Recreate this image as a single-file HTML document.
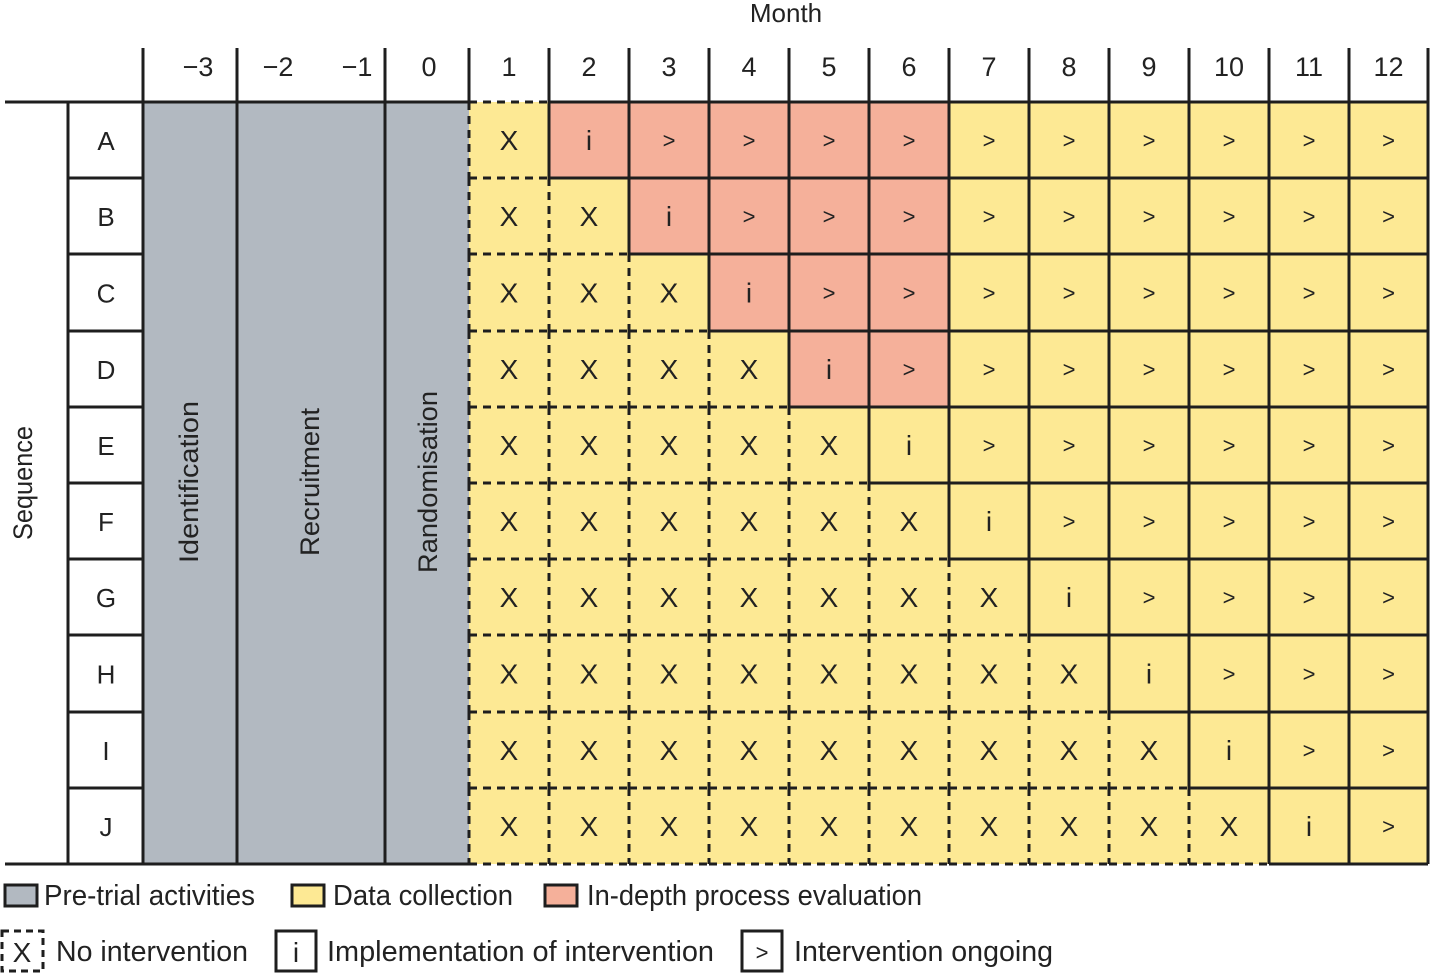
<!DOCTYPE html>
<html><head><meta charset="utf-8"><style>
html,body{margin:0;padding:0;background:#fff;}
svg{display:block;font-family:"Liberation Sans",sans-serif;}
</style></head><body>
<svg id="s" width="1430" height="973" viewBox="0 0 1430 973" xmlns="http://www.w3.org/2000/svg"></svg>
<script>
var s=document.getElementById('s');var h='';
var cx=[469,549,629,709,789,869,949,1029,1109,1189,1269,1349,1428];
var ry=[];for(var i=0;i<=10;i++)ry.push(Math.round(102+i*76.2));
var Y='#fde994',P='#f5b09a',G='#b2b9c1',L='#1e1e1e';
function t(x,y,str,fs,extra){h+='<text x="'+x+'" y="'+y+'" font-size="'+fs+'" text-anchor="middle" fill="#222" '+(extra||'')+'>'+str+'</text>';}
function ln(x1,y1,x2,y2,d){h+='<line x1="'+x1+'" y1="'+y1+'" x2="'+x2+'" y2="'+y2+'" stroke="'+L+'" stroke-width="3"'+(d?' stroke-dasharray="8,6"':'')+'/>';}
// pretrial
h+='<rect x="143" y="102" width="326" height="762" fill="'+G+'"/>';
// cells
function kind(r,c){ if(c<=r+1) return 'X'; if(c==r+2) return 'i'; return '>';}
function pink(r,c){return (r<=3 && c>=r+2 && c<=6);}
for(var r=0;r<10;r++)for(var c=1;c<=12;c++){
 h+='<rect x="'+cx[c-1]+'" y="'+ry[r]+'" width="'+(cx[c]-cx[c-1])+'" height="'+(ry[r+1]-ry[r])+'" fill="'+(pink(r,c)?P:Y)+'"/>';
}
// texts in cells
for(var r=0;r<10;r++)for(var c=1;c<=12;c++){
 var k=kind(r,c),x=(cx[c-1]+cx[c])/2,y=(ry[r]+ry[r+1])/2;
 if(k=='X')t(x,y+10,'X',28,'transform="scale(1,1)"');
 else if(k=='i')t(x,y+10,'i',28);
 else t(x,y+8,'&gt;',22);
}
function isX(r,c){return r>=0&&r<10&&c>=1&&c<=12&&kind(r,c)=='X';}
// vertical edges in grid
for(var r=0;r<10;r++)for(var e=0;e<=12;e++){
 var a=isX(r,e),b=isX(r,e+1);var dashed;
 if(e==0) dashed=b; else if(e==12) dashed=false; else dashed=a&&b;
 if(e==0 && !b) continue;
 ln(cx[e],ry[r],cx[e],ry[r+1],dashed);
}
// horizontal edges
for(var e=0;e<=10;e++)for(var c=1;c<=12;c++){
 var a=isX(e-1,c),b=isX(e,c);var dashed;
 if(e==0) dashed=b; else if(e==10) dashed=a; else dashed=a&&b;
 ln(cx[c-1],ry[e],cx[c],ry[e],dashed);
}
// header/main lines
ln(5,102,469,102);ln(5,864,469,864);
[143,237,385,469].forEach(function(x){ln(x,48,x,102);});
[143,237,385].forEach(function(x){ln(x,102,x,864);});
cx.slice(1).forEach(function(x){ln(x,48,x,102);});
// letter column
ln(68,102,68,864);
for(var i=1;i<10;i++)ln(68,ry[i],143,ry[i]);
var letters='ABCDEFGHIJ';
for(var i=0;i<10;i++)t(106,(ry[i]+ry[i+1])/2+10,letters[i],26);
// header numbers
t(198,76,'\u22123',27);t(278,76,'\u22122',27);t(357,76,'\u22121',27);t(429,76,'0',27);
for(var c=1;c<=12;c++)t((cx[c-1]+cx[c])/2,76,c,27);
t(786,22,'Month',26);
// rotated
function rt(x,y,str,len){h+='<text x="0" y="0" font-size="27" text-anchor="middle" fill="#222" transform="translate('+x+','+y+') rotate(-90)" textLength="'+len+'" lengthAdjust="spacingAndGlyphs">'+str+'</text>';}
rt(198,482,'Identification',162);rt(319,482,'Recruitment',148);rt(437,482,'Randomisation',182);rt(32,483,'Sequence',114);
// legend
function lt(x,y,str,len){h+='<text x="'+x+'" y="'+y+'" font-size="29" fill="#222" textLength="'+len+'" lengthAdjust="spacingAndGlyphs">'+str+'</text>';}
function box(x,y,w,hh,f,d){h+='<rect x="'+x+'" y="'+y+'" width="'+w+'" height="'+hh+'" fill="'+f+'" stroke="'+L+'" stroke-width="3"'+(d?' stroke-dasharray="7,5"':'')+'/>';}
box(5,885,32,21,G);lt(44,905,'Pre-trial activities',211);
box(292,885,32,21,Y);lt(333,905,'Data collection',180);
box(545,885,32,21,P);lt(587,905,'In-depth process evaluation',335);
box(2,931,41,40,'#fff',true);t(22,962,'X',28);lt(56,961,'No intervention',192);
box(276,931,40,40,'#fff');t(296,962,'i',28);lt(327,961,'Implementation of intervention',387);
box(742,931,40,40,'#fff');t(762,960,'&gt;',22);lt(794,961,'Intervention ongoing',259);
s.innerHTML=h;
</script>
</body></html>
